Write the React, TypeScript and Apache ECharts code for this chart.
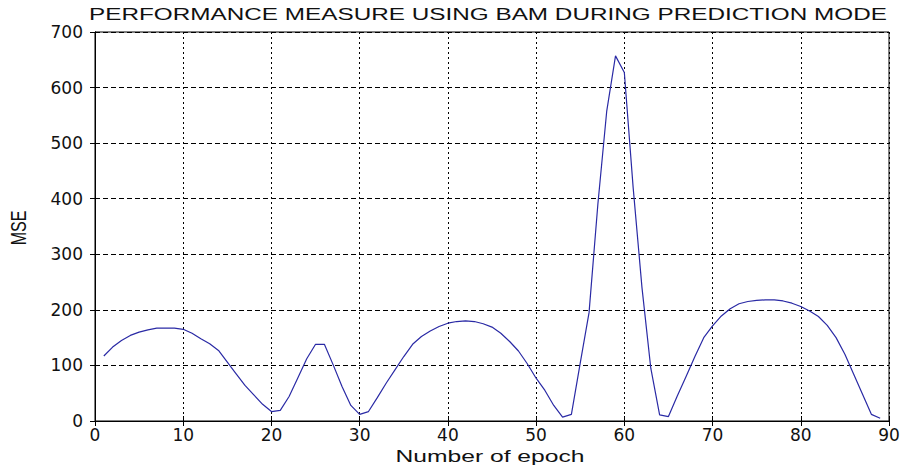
import React, { useEffect, useRef } from "react";
import * as echarts from "echarts";

const titleText = "PERFORMANCE MEASURE USING BAM DURING PREDICTION MODE";
const xAxisName = "Number of epoch";
const yAxisName = "MSE";

const epochs: number[] = [
  1, 2, 3, 4, 5, 6, 7, 8, 9, 10, 11, 12, 13, 14, 15, 16, 17, 18, 19, 20,
  21, 22, 23, 24, 25, 26, 27, 28, 29, 30, 31, 32, 33, 34, 35, 36, 37, 38, 39, 40,
  41, 42, 43, 44, 45, 46, 47, 48, 49, 50, 51, 52, 53, 54, 55, 56, 57, 58, 59, 60,
  61, 62, 63, 64, 65, 66, 67, 68, 69, 70, 71, 72, 73, 74, 75, 76, 77, 78, 79, 80,
  81, 82, 83, 84, 85, 86, 87, 88, 89,
];

const mse: number[] = [
  117, 133, 145, 154, 160, 164, 167, 167, 167, 165, 158, 148, 139, 127, 106, 85, 64, 47, 30, 17,
  19, 44, 78, 112, 138, 138, 101, 62, 28, 12, 17, 42, 68, 92, 116, 138, 152, 162, 170, 176,
  179, 180, 179, 175, 169, 158, 143, 126, 103, 77, 55, 28, 7, 12, 104, 195, 390, 557, 657, 627,
  420, 240, 95, 11, 8, 45, 80, 116, 150, 171, 189, 202, 211, 215, 217, 218, 218, 216, 212, 206,
  198, 188, 172, 150, 120, 84, 48, 12, 5,
];

const xMin = 0;
const xMax = 90;
const xStep = 10;
const yMin = 0;
const yMax = 700;
const yStep = 100;

export default function App() {
  const ref = useRef<HTMLDivElement>(null);
  useEffect(() => {
    if (!ref.current) return;
    const chart = echarts.init(ref.current, null, { renderer: "svg" });
    const labelStyle = {
      color: "#111",
      fontSize: 17,
      fontFamily: "DejaVu Sans",
    };
    const tickIn = { show: true, inside: true, length: 5, lineStyle: { color: "#000" } };
    chart.setOption({
      animation: false,
      backgroundColor: "#fff",
      grid: {
        left: 95,
        right: 19,
        top: 32,
        bottom: 44,
        show: true,
        borderColor: "#000",
        borderWidth: 1,
        backgroundColor: "#fff",
      },
      xAxis: [
        {
          type: "value",
          min: xMin,
          max: xMax,
          interval: xStep,
          axisLine: { show: true, onZero: false, lineStyle: { color: "#000", width: 1 } },
          axisTick: tickIn,
          axisLabel: { ...labelStyle, margin: 5 },
          splitLine: { show: true, lineStyle: { color: "#000", type: [2, 3], width: 1 } },
        },
        {
          type: "value",
          position: "top",
          min: xMin,
          max: xMax,
          interval: xStep,
          axisLine: { show: true, lineStyle: { color: "#000", width: 1 } },
          axisTick: tickIn,
          axisLabel: { show: false },
          splitLine: { show: false },
        },
      ],
      yAxis: [
        {
          type: "value",
          min: yMin,
          max: yMax,
          interval: yStep,
          axisLine: { show: true, onZero: false, lineStyle: { color: "#000", width: 1 } },
          axisTick: tickIn,
          axisLabel: { ...labelStyle, margin: 12 },
          splitLine: { show: true, lineStyle: { color: "#000", type: [5, 3], width: 1 } },
        },
        {
          type: "value",
          position: "right",
          min: yMin,
          max: yMax,
          interval: yStep,
          axisLine: { show: true, lineStyle: { color: "#000", width: 1 } },
          axisTick: tickIn,
          axisLabel: { show: false },
          splitLine: { show: false },
        },
      ],
      graphic: [
        {
          type: "text",
          x: 488,
          y: 14,
          scaleX: 1.43,
          style: {
            text: titleText,
            fill: "#111",
            fontSize: 17,
            fontFamily: "Liberation Sans",
            textAlign: "center",
            textVerticalAlign: "middle",
          },
        },
        {
          type: "text",
          x: 490,
          y: 456,
          scaleX: 1.45,
          style: {
            text: xAxisName,
            fill: "#111",
            fontSize: 17,
            fontFamily: "Liberation Sans",
            textAlign: "center",
            textVerticalAlign: "middle",
          },
        },
        {
          type: "text",
          x: 18,
          y: 228,
          rotation: Math.PI / 2,
          scaleY: 1.4,
          style: {
            text: yAxisName,
            fill: "#111",
            fontSize: 16,
            fontFamily: "Liberation Sans",
            textAlign: "center",
            textVerticalAlign: "middle",
          },
        },
      ],
      series: [
        {
          type: "line",
          xAxisIndex: 0,
          yAxisIndex: 0,
          data: epochs.map((e, i) => [e, mse[i]]),
          showSymbol: false,
          symbol: "none",
          lineStyle: { color: "#2a2aa5", width: 1.2 },
          z: 5,
        },
      ],
    });
    return () => chart.dispose();
  }, []);
  return <div ref={ref} style={{ width: 908, height: 465, marginLeft: -8, marginTop: -8 }} />;
}
